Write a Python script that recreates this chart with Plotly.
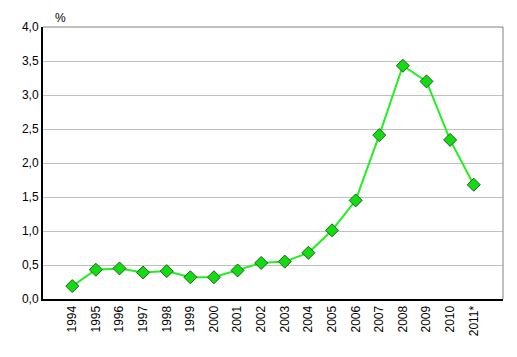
import plotly.graph_objects as go

years = ["1994", "1995", "1996", "1997", "1998", "1999", "2000", "2001", "2002",
         "2003", "2004", "2005", "2006", "2007", "2008", "2009", "2010", "2011*"]
values = [0.19, 0.43, 0.45, 0.39, 0.41, 0.32, 0.32, 0.42, 0.53,
          0.55, 0.68, 1.01, 1.45, 2.41, 3.43, 3.20, 2.34, 1.68]
y_ticks = [0, 0.5, 1.0, 1.5, 2.0, 2.5, 3.0, 3.5, 4.0]
y_tick_text = ["0,0", "0,5", "1,0", "1,5", "2,0", "2,5", "3,0", "3,5", "4,0"]

fig = go.Figure()
fig.add_trace(go.Scatter(
    x=years, y=values, mode="lines+markers",
    line=dict(color="#22f022", width=2),
    marker=dict(symbol="diamond", size=10, color="#11dd11",
                line=dict(color="#2a5a2a", width=1)),
    showlegend=False,
))

fig.update_layout(
    width=509, height=349,
    margin=dict(l=35, r=14, t=16, b=58),
    paper_bgcolor="white", plot_bgcolor="white",
    font=dict(family="Liberation Sans, Arial, sans-serif", size=12, color="black"),
    xaxis=dict(
        type="category", tickangle=-90, showgrid=False,
        showline=True, linecolor="black", linewidth=2,
        mirror=False, ticks="", tickfont=dict(size=12),
    ),
    yaxis=dict(
        range=[0, 4], tickvals=y_ticks, ticktext=y_tick_text,
        showgrid=True, gridcolor="#c0c0c0", gridwidth=1,
        showline=True, linecolor="black", linewidth=2,
        ticks="", zeroline=False, tickfont=dict(size=12),
    ),
    shapes=[
        dict(type="line", xref="paper", yref="paper", x0=0, x1=1, y0=1, y1=1,
             line=dict(color="#808080", width=1)),
        dict(type="line", xref="paper", yref="paper", x0=1, x1=1, y0=0, y1=1,
             line=dict(color="#808080", width=1)),
    ],
    annotations=[
        dict(text="%", xref="paper", yref="paper", x=0.022, y=1.0,
             xanchor="left", yanchor="bottom", showarrow=False,
             font=dict(size=12)),
    ],
)

fig.write_html("out.html")
